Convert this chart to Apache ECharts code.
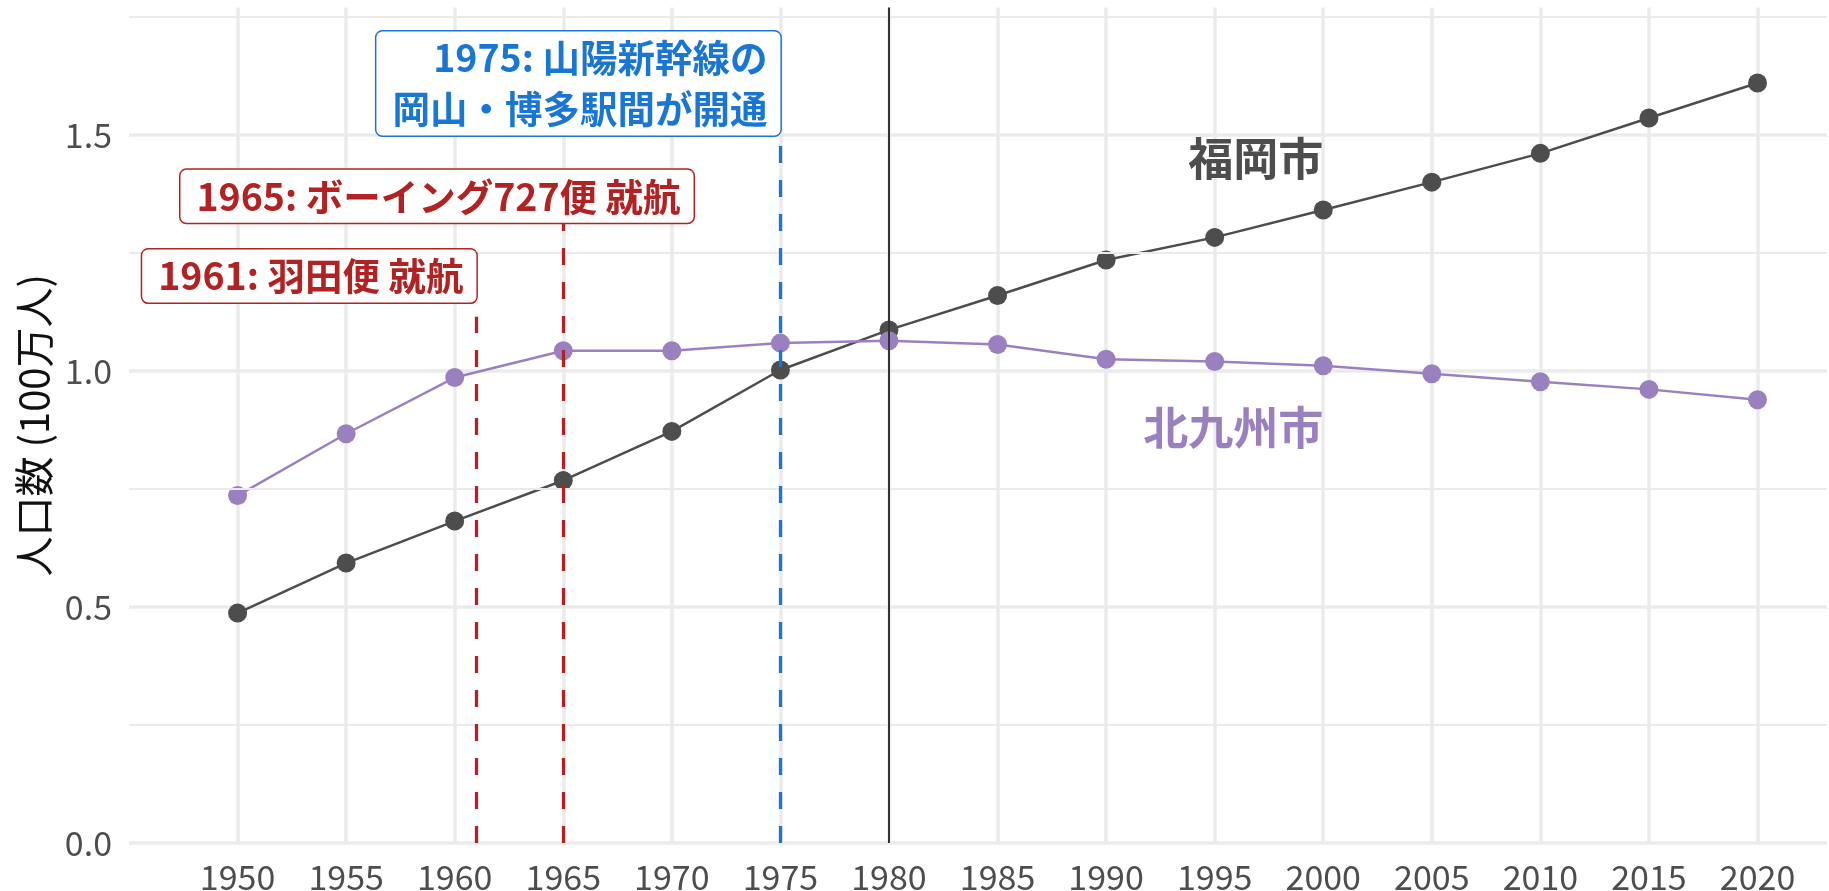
<!DOCTYPE html>
<html><head><meta charset="utf-8">
<script src="https://cdn.jsdelivr.net/npm/echarts@6/dist/echarts.min.js"></script>
<style>html,body{margin:0;padding:0;background:#fff}#c{width:1829px;height:891px}</style>
</head><body><div id="c"></div>
<script>
// ---- data ----
const years = [1950,1955,1960,1965,1970,1975,1980,1985,1990,1995,2000,2005,2010,2015,2020];
const fukuoka = [0.487,0.593,0.682,0.768,0.872,1.002,1.087,1.160,1.235,1.283,1.341,1.400,1.461,1.536,1.610];
const kitakyushu = [0.736,0.867,0.986,1.043,1.043,1.059,1.064,1.056,1.025,1.020,1.011,0.994,0.977,0.961,0.939];
const seriesNames = ['福岡市','北九州市'];
const yTickLabels = ['0.0','0.5','1.0','1.5'];
const minorBreaks = [0.25,0.75,1.25,1.75];
const eventYears = [1961,1965,1975];
const eventTops = [1.115,1.315,1.478];
const eventTexts = ['1961: 羽田便 就航','1965: ボーイング727便 就航','1975: 山陽新幹線の\n岡山・博多駅間が開通'];
const markerYear = 1980;
const yTitle = '人口数 (100万人)';

const FONT = "'Noto Sans CJK JP','Noto Sans',sans-serif";
const GRAY = '#4d4d4d', PURPLE = '#9b80c0', RED = '#b22222', BLUE = '#1976d2';
const pairs = (vals) => years.map((y,i)=>[y, vals[i]]);

const eventColors = [RED, RED, BLUE];
const eventLabelPos = [[1961,1.201],[1971,1.370],[1975,1.609]];

const chart = echarts.init(document.getElementById('c'), null, {renderer:'canvas'});
chart.setOption({
  animation:false,
  backgroundColor:'#fff',
  grid:{left:129, right:2, top:7.5, bottom:48, containLabel:false, outerBoundsMode:'none'},
  xAxis:{
    type:'value', min:1945, max:2023.2, interval:5,
    axisLine:{show:false}, axisTick:{show:false},
    axisLabel:{color:GRAY, fontSize:34, fontFamily:FONT, margin:17,
      showMinLabel:false, showMaxLabel:false,
      formatter:(v)=> years.indexOf(v) >= 0 ? String(v) : ''},
    splitLine:{show:true, showMinLine:false, showMaxLine:false, lineStyle:{color:'#ebebeb', width:3.5}}
  },
  yAxis:{
    type:'value', min:0, max:1.77, interval:0.5,
    name:yTitle, nameLocation:'middle', nameRotate:90, nameGap:72,
    nameTextStyle:{color:'#111', fontSize:40, fontFamily:FONT},
    axisLine:{show:false}, axisTick:{show:false},
    axisLabel:{color:GRAY, fontSize:34, fontFamily:FONT, margin:17, showMaxLabel:false,
      formatter:(v)=>{ const i = Math.round(v/0.5); return Math.abs(v - i*0.5) < 1e-6 && i < yTickLabels.length ? yTickLabels[i] : ''; }},
    splitLine:{show:true, showMaxLine:false, lineStyle:{color:'#ebebeb', width:3.5}}
  },
  series:[
    { type:'line', name:'minor', data:[], z:1, silent:true,
      markLine:{ silent:true, symbol:['none','none'], animation:false,
        label:{show:false}, lineStyle:{color:'#ebebeb', width:2, type:'solid'},
        emphasis:{disabled:true},
        data: minorBreaks.map(v=>({yAxis:v})) } },
    { type:'line', name:seriesNames[0], data:pairs(fukuoka), z:3,
      symbol:'circle', symbolSize:19, showSymbol:true,
      lineStyle:{color:GRAY, width:2.5}, itemStyle:{color:GRAY} },
    { type:'line', name:seriesNames[1], data:pairs(kitakyushu), z:4,
      symbol:'circle', symbolSize:19, showSymbol:true,
      lineStyle:{color:PURPLE, width:2.5}, itemStyle:{color:PURPLE} },
    { type:'line', name:'events', data:[], z:6, silent:true,
      markLine:{ silent:true, symbol:['none','none'], animation:false, label:{show:false},
        emphasis:{disabled:true},
        data: eventYears.map((y,i)=>[
          {coord:[y,0], lineStyle:{color:eventColors[i], width:3.3, type:[17,17]}},
          {coord:[y,eventTops[i]]}
        ]).concat([[
          {coord:[markerYear,0], lineStyle:{color:'#333', width:2, type:'solid'}},
          {coord:[markerYear,1.77]}
        ]]) } },
    { type:'line', name:'labels', data:[], z:8, silent:true,
      markPoint:{ silent:true, animation:false, symbol:'rect', symbolSize:0,
        data: eventTexts.map((t,i)=>({
          coord:eventLabelPos[i], value:t,
          label:{show:true, position:'inside', formatter:t, align:'right', verticalAlign:'middle',
            color:eventColors[i], fontSize:37.5, fontWeight:'bold', fontFamily:FONT,
            lineHeight:51, backgroundColor:'#fff', borderColor:eventColors[i], borderWidth:1.5,
            borderRadius:6, padding:[1,13,1,16]}
        })).concat([
          {coord:[2000,1.449], value:seriesNames[0],
            label:{show:true, position:'inside', formatter:seriesNames[0], align:'right', verticalAlign:'middle',
              color:GRAY, fontSize:45, fontWeight:'bold', fontFamily:FONT}},
          {coord:[2000,0.879], value:seriesNames[1],
            label:{show:true, position:'inside', formatter:seriesNames[1], align:'right', verticalAlign:'middle',
              color:PURPLE, fontSize:45, fontWeight:'bold', fontFamily:FONT}}
        ]) } }
  ]
});
</script></body></html>
